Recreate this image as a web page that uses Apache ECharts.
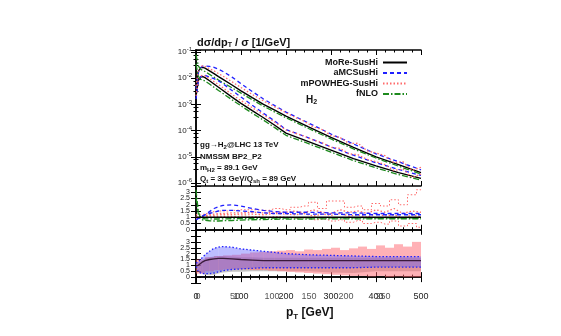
<!DOCTYPE html>
<html>
<head>
<meta charset="utf-8">
<script src="https://cdn.jsdelivr.net/npm/echarts@6/dist/echarts.min.js"></script>
<style>
  html, body { margin: 0; padding: 0; background: #fff; }
  #chart { width: 561px; height: 336px; }
</style>
</head>
<body>
<div id="chart"></div>
<script>
// =====================
// data
// =====================

const pT = [0, 5, 10, 15, 20, 30, 40, 50, 60, 80, 100, 125, 150, 175, 200, 250, 300, 350, 400, 450, 500];
const pTRed = [0, 5, 10, 15, 20, 30, 40, 50, 60, 80, 100, 125, 150, 175, 200, 220, 240, 260, 280, 300, 320, 340, 360, 380, 400, 420, 440, 460, 480, 500];

// main panel, two curves per generator
const moreHi = [5e-3, 1.8e-2, 2.5e-2, 2.6e-2, 2.4e-2, 1.9e-2, 1.5e-2, 1.15e-2, 9e-3, 5.5e-3, 3.3e-3, 1.8e-3, 1e-3, 6e-4, 3.6e-4, 1.4e-4, 5.5e-5, 2.3e-5, 1e-5, 5e-6, 2.5e-6];
const moreLo = [2e-3, 8e-3, 1.1e-2, 1.15e-2, 1.05e-2, 8e-3, 6e-3, 4.5e-3, 3.4e-3, 1.9e-3, 1.1e-3, 5.8e-4, 3.1e-4, 1.6e-4, 8e-5, 3.8e-5, 1.8e-5, 8.5e-6, 4.5e-6, 2.5e-6, 1.5e-6];
const amcHi = [4e-3, 1.6e-2, 2.5e-2, 2.9e-2, 2.9e-2, 2.8e-2, 2.6e-2, 2.2e-2, 1.8e-2, 1.1e-2, 6.2e-3, 3.1e-3, 1.6e-3, 9e-4, 5.1e-4, 1.96e-4, 7.4e-5, 3.1e-5, 1.3e-5, 6.5e-6, 3.2e-6];
const amcLo = [1.6e-3, 7.2e-3, 1.1e-2, 1.3e-2, 1.3e-2, 1.1e-2, 9.6e-3, 7.9e-3, 6.1e-3, 3.4e-3, 1.9e-3, 9.3e-4, 4.6e-4, 2.3e-4, 1.1e-4, 5.3e-5, 2.4e-5, 1.15e-5, 5.9e-6, 3.3e-6, 1.95e-6];
const powhegHi = [5e-3, 1.9e-2, 2.7e-2, 3e-2, 2.8e-2, 2.3e-2, 1.9e-2, 1.5e-2, 1.2e-2, 7.3e-3, 4.4e-3, 2.4e-3, 1.35e-3, 8e-4, 4.8e-4, 3.2e-4, 2.3e-4, 1.4e-4, 1.1e-4, 6.5e-5, 5.5e-5, 3.2e-5, 3.3e-5, 1.7e-5, 1.4e-5, 1.1e-5, 6e-6, 6.5e-6, 3e-6, 4e-6];
const powhegLo = [2.1e-3, 8.5e-3, 1.2e-2, 1.3e-2, 1.2e-2, 9.5e-3, 7.4e-3, 5.7e-3, 4.3e-3, 2.4e-3, 1.4e-3, 7.5e-4, 4e-4, 2.1e-4, 1.05e-4, 8e-5, 6.2e-5, 4.4e-5, 3.5e-5, 2.3e-5, 2.1e-5, 1.3e-5, 1.2e-5, 8e-6, 6.5e-6, 5e-6, 3e-6, 3.4e-6, 1.6e-6, 2.2e-6];
const fnloHi = [8e-2, 3e-2, 2.2e-2, 2e-2, 1.8e-2, 1.4e-2, 1.1e-2, 8.5e-3, 6.8e-3, 4.3e-3, 2.7e-3, 1.5e-3, 8.5e-4, 5.1e-4, 3.1e-4, 1.2e-4, 4.8e-5, 2e-5, 9e-6, 4.4e-6, 2.2e-6];
const fnloLo = [3.5e-2, 1.2e-2, 9e-3, 8.5e-3, 7.8e-3, 6e-3, 4.5e-3, 3.4e-3, 2.6e-3, 1.5e-3, 8.8e-4, 4.6e-4, 2.5e-4, 1.3e-4, 6.6e-5, 3.2e-5, 1.5e-5, 7.2e-6, 3.8e-6, 2.1e-6, 1.3e-6];

// first ratio panel
const amcRatioHi = [0.8, 0.9, 1.0, 1.1, 1.2, 1.45, 1.7, 1.85, 1.95, 2.0, 1.9, 1.7, 1.55, 1.45, 1.4, 1.4, 1.35, 1.35, 1.3, 1.3, 1.3];
const amcRatioLo = [0.8, 0.9, 1.0, 1.1, 1.2, 1.3, 1.4, 1.5, 1.55, 1.55, 1.5, 1.45, 1.35, 1.3, 1.3, 1.25, 1.25, 1.2, 1.2, 1.2, 1.2];
const fnloRatioHi = [3.2, 1.5, 0.9, 0.78, 0.75, 0.72, 0.7, 0.7, 0.72, 0.74, 0.77, 0.8, 0.82, 0.84, 0.85, 0.86, 0.87, 0.87, 0.88, 0.88, 0.88];
const fnloRatioLo = [2.6, 1.3, 1.0, 0.9, 0.88, 0.87, 0.86, 0.86, 0.87, 0.88, 0.9, 0.9, 0.92, 0.93, 0.94, 0.95, 0.95, 0.95, 0.96, 0.96, 0.96];
const powhegRatioHi = [1.1, 1.0, 1.05, 1.1, 1.15, 1.2, 1.25, 1.3, 1.3, 1.35, 1.35, 1.4, 1.35, 1.4, 1.4, 1.5, 1.35, 1.6, 1.4, 1.3, 1.6, 1.4, 1.5, 1.3, 1.6, 1.4, 1.7, 1.3, 1.5, 1.4];
const powhegRatioLo = [1.0, 0.95, 1.0, 1.05, 1.1, 1.1, 1.15, 1.2, 1.2, 1.2, 1.25, 1.25, 1.2, 1.3, 1.25, 1.2, 1.3, 1.1, 1.25, 1.15, 1.3, 1.1, 1.2, 1.0, 1.3, 1.1, 1.2, 0.9, 1.2, 1.0];
const powhegRatioUp = [1.2, 1.2, 1.2, 1.2, 1.3, 1.4, 1.45, 1.5, 1.5, 1.55, 1.6, 1.6, 1.55, 1.7, 1.6, 1.8, 1.9, 2.2, 1.7, 2.3, 2.3, 1.8, 1.9, 1.6, 2.1, 1.9, 2.4, 2.0, 2.8, 3.2];
const powhegRatioDown = [0.9, 0.9, 0.95, 1.0, 1.0, 1.0, 1.05, 1.05, 1.05, 1.05, 1.1, 1.05, 1.0, 1.05, 1.0, 0.9, 0.95, 0.8, 0.85, 0.7, 0.8, 0.6, 0.75, 0.5, 0.6, 0.45, 0.7, 0.3, 0.5, 0.2];

// second ratio panel: scale bands
const moreCentral = [0.95, 1.0, 1.15, 1.3, 1.4, 1.5, 1.55, 1.6, 1.6, 1.55, 1.5, 1.45, 1.4, 1.4, 1.4, 1.4, 1.4, 1.4, 1.4, 1.4, 1.4];
const moreBandLo = [0.9, 0.6, 0.4, 0.3, 0.2, 0.15, 0.2, 0.3, 0.4, 0.45, 0.45, 0.5, 0.5, 0.5, 0.5, 0.5, 0.4, 0.35, 0.5, 0.5, 0.5];
const moreBandHi = [1.1, 1.2, 1.35, 1.5, 1.6, 1.7, 1.75, 1.8, 1.8, 1.75, 1.7, 1.7, 1.65, 1.65, 1.65, 1.65, 1.65, 1.65, 1.65, 1.65, 1.65];
const amcBandLo = [0.9, 0.5, 0.35, 0.3, 0.3, 0.3, 0.35, 0.45, 0.55, 0.65, 0.7, 0.75, 0.8, 0.8, 0.8, 0.8, 0.8, 0.8, 0.85, 0.85, 0.85];
const amcBandHi = [1.2, 1.3, 1.5, 1.7, 1.9, 2.2, 2.45, 2.55, 2.6, 2.55, 2.4, 2.3, 2.2, 2.1, 2.0, 1.9, 1.85, 1.8, 1.75, 1.75, 1.75];
const binEdges = [0, 20, 40, 60, 80, 100, 120, 140, 160, 180, 200, 220, 240, 260, 280, 300, 320, 340, 360, 380, 400, 420, 440, 460, 480, 500];
const powhegBandLo = [0.3, 0.5, 0.6, 0.65, 0.65, 0.65, 0.6, 0.6, 0.55, 0.5, 0.45, 0.4, 0.35, 0.3, 0.25, 0.2, 0.15, 0.1, 0.1, 0.05, 0.1, 0.0, 0.05, 0.0, 0.0];
const powhegBandHi = [1.5, 1.7, 1.8, 1.85, 1.9, 2.0, 2.1, 2.15, 2.2, 2.25, 2.3, 2.2, 2.35, 2.3, 2.4, 2.5, 2.3, 2.45, 2.6, 2.4, 2.7, 2.5, 2.8, 2.6, 3.0];

const ratioTicks = [0, 0.5, 1, 1.5, 2, 2.5, 3];

// =====================
// helpers
// =====================

const FONT = "Liberation Sans";

function pairs(xs, ys) {
  return xs.map((x, i) => [x, ys[i]]);
}

function logLabel(v) {
  const e = Math.log10(v);
  if (Math.abs(e - Math.round(e)) > 1e-6) return "";
  return "10{sup|" + Math.round(e) + "}";
}

function ratioLabel(v) {
  return ratioTicks.indexOf(v) >= 0 ? String(v) : "";
}

const frameLine = { show: true, lineStyle: { color: "#000", width: 1.5 } };
const inTick = { show: true, inside: true, length: 5, lineStyle: { color: "#000" } };
const inMinor = { show: true, splitNumber: 5, length: 2.5, lineStyle: { color: "#000" } };

function xAxisFor(grid, pos, labels) {
  return {
    type: "value", gridIndex: grid, position: pos, min: 0, max: 500, interval: 100,
    axisLine: frameLine, axisTick: inTick, minorTick: inMinor, splitLine: { show: false },
    axisLabel: labels
      ? { show: true, color: "#222", fontFamily: FONT, fontSize: 9, margin: 9 }
      : { show: false },
  };
}

function ratioYAxis(grid, pos, labels) {
  return {
    type: "value", gridIndex: grid, position: pos, min: -0.5, max: 3.5, interval: 0.5,
    axisLine: frameLine, axisTick: inTick, splitLine: { show: false },
    axisLabel: labels
      ? { show: true, color: "#222", fontFamily: FONT, fontSize: 7, margin: 6, formatter: ratioLabel }
      : { show: false },
  };
}

function line(name, xi, yi, data, color, type, width) {
  return {
    name: name, type: "line", xAxisIndex: xi, yAxisIndex: yi, data: data,
    showSymbol: false, symbol: "none", silent: true,
    lineStyle: { color: color, type: type, width: width || 1.3 },
    itemStyle: { color: color },
  };
}

// band between two curves, drawn segment by segment through the axes
function band(xi, yi, xs, lo, hi, fill) {
  const data = [];
  for (let i = 0; i < xs.length - 1; i++) {
    data.push([xs[i], lo[i], hi[i], xs[i + 1], lo[i + 1], hi[i + 1]]);
  }
  return {
    type: "custom", xAxisIndex: xi, yAxisIndex: yi, data: data, silent: true,
    renderItem: function (params, api) {
      const a = api.coord([api.value(0), api.value(1)]);
      const b = api.coord([api.value(3), api.value(4)]);
      const c = api.coord([api.value(3), api.value(5)]);
      const d = api.coord([api.value(0), api.value(2)]);
      return { type: "polygon", shape: { points: [a, b, c, d] }, style: { fill: fill } };
    },
  };
}

// histogram band, one rectangle per bin
function binBand(xi, yi, edges, lo, hi, fill) {
  const data = lo.map((v, i) => [edges[i], edges[i + 1], v, hi[i]]);
  return {
    type: "custom", xAxisIndex: xi, yAxisIndex: yi, data: data, silent: true,
    renderItem: function (params, api) {
      const a = api.coord([api.value(0), api.value(3)]);
      const b = api.coord([api.value(1), api.value(2)]);
      return {
        type: "rect",
        shape: { x: a[0], y: a[1], width: b[0] - a[0], height: b[1] - a[1] },
        style: { fill: fill },
      };
    },
  };
}

// =====================
// chart
// =====================

const BLACK = "#000000";
const BLUE = "#2020ff";
const RED = "#ff6a6a";
const GREEN = "#1d8a1d";
const DASH = [4, 3];
const DOT = [1.5, 2];
const DASHDOT = [6, 2, 1.5, 2];

const chart = echarts.init(document.getElementById("chart"));

chart.setOption({
  animation: false,
  backgroundColor: "#fff",
  grid: [
    { left: 196, width: 225, top: 50, height: 136 },
    { left: 196, width: 225, top: 186, height: 50 },
    { left: 196, width: 225, top: 236, height: 47 },
    { left: 198, width: 185, top: 236, height: 47 },
  ],
  xAxis: [
    xAxisFor(0, "bottom", false),
    xAxisFor(0, "top", false),
    xAxisFor(1, "bottom", false),
    xAxisFor(1, "top", false),
    xAxisFor(2, "bottom", true),
    xAxisFor(2, "top", false),
    {
      type: "value", gridIndex: 3, position: "bottom", min: 0, max: 250, interval: 50,
      axisLine: { show: false }, axisTick: { show: false }, splitLine: { show: false },
      axisLabel: { show: true, color: "#555", fontFamily: FONT, fontSize: 9, margin: 9 },
    },
  ],
  yAxis: [
    {
      type: "log", gridIndex: 0, position: "left", min: 7.7e-7, max: 0.119,
      axisLine: frameLine, axisTick: inTick, minorTick: { show: true, splitNumber: 4, length: 2.5 },
      splitLine: { show: false },
      axisLabel: {
        color: "#222", fontFamily: FONT, fontSize: 8, margin: 4, formatter: logLabel,
        rich: { sup: { fontSize: 6, verticalAlign: "top", padding: [0, 0, 5, 0], fontFamily: FONT, color: "#222" } },
      },
    },
    {
      type: "log", gridIndex: 0, position: "right", min: 7.7e-7, max: 0.119,
      axisLine: frameLine, axisTick: inTick, minorTick: { show: true, splitNumber: 4, length: 2.5 },
      splitLine: { show: false }, axisLabel: { show: false },
    },
    ratioYAxis(1, "left", true),
    ratioYAxis(1, "right", false),
    ratioYAxis(2, "left", true),
    ratioYAxis(2, "right", false),
    { type: "value", gridIndex: 3, show: false, min: 0, max: 1 },
  ],
  legend: {
    data: ["MoRe-SusHi", "aMCSusHi", "mPOWHEG-SusHi", "fNLO"],
    orient: "vertical", right: 148, top: 53, align: "right",
    itemWidth: 24, itemHeight: 7, itemGap: 1.5,
    itemStyle: { opacity: 0 },
    textStyle: { fontFamily: FONT, fontSize: 9, lineHeight: 8, fontWeight: "bold", color: "#111" },
  },
  series: [
    // main panel
    line("MoRe-SusHi", 0, 0, pairs(pT, moreHi), BLACK, "solid", 1.4),
    line("aMCSusHi", 0, 0, pairs(pT, amcHi), BLUE, DASH),
    line("mPOWHEG-SusHi", 0, 0, pairs(pTRed, powhegHi), RED, DOT),
    line("fNLO", 0, 0, pairs(pT, fnloHi), GREEN, DASHDOT),
    line("MoRe-SusHi", 0, 0, pairs(pT, moreLo), BLACK, "solid", 1.4),
    line("aMCSusHi", 0, 0, pairs(pT, amcLo), BLUE, DASH),
    line("mPOWHEG-SusHi", 0, 0, pairs(pTRed, powhegLo), RED, DOT),
    line("fNLO", 0, 0, pairs(pT, fnloLo), GREEN, DASHDOT),

    // ratio panel 1
    Object.assign(line("mPOWHEG-SusHi", 2, 2, pairs(pTRed, powhegRatioUp), RED, DOT, 1), { step: "middle" }),
    Object.assign(line("mPOWHEG-SusHi", 2, 2, pairs(pTRed, powhegRatioDown), RED, DOT, 1), { step: "middle" }),
    line("mPOWHEG-SusHi", 2, 2, pairs(pTRed, powhegRatioHi), RED, DOT),
    line("mPOWHEG-SusHi", 2, 2, pairs(pTRed, powhegRatioLo), RED, DOT),
    line("aMCSusHi", 2, 2, pairs(pT, amcRatioHi), BLUE, DASH),
    line("aMCSusHi", 2, 2, pairs(pT, amcRatioLo), BLUE, DASH),
    line("fNLO", 2, 2, pairs(pT, fnloRatioHi), GREEN, DASHDOT),
    line("fNLO", 2, 2, pairs(pT, fnloRatioLo), GREEN, DASHDOT),
    line("MoRe-SusHi", 2, 2, [[0, 1], [500, 1]], BLACK, "solid", 1.6),

    // ratio panel 2
    band(4, 4, pT, moreBandLo, moreBandHi, "rgba(150,150,150,0.55)"),
    binBand(4, 4, binEdges, powhegBandLo, powhegBandHi, "rgba(255,100,110,0.5)"),
    band(4, 4, pT, amcBandLo, amcBandHi, "rgba(90,90,255,0.4)"),
    line("aMCSusHi", 4, 4, pairs(pT, amcBandLo), BLUE, DOT),
    line("aMCSusHi", 4, 4, pairs(pT, amcBandHi), BLUE, DOT),
    line("MoRe-SusHi", 4, 4, pairs(pT, moreCentral), "#3a1a3a", "solid", 1.3),
  ],
  graphic: [
    {
      type: "text", left: 197, top: 37,
      style: {
        text: "dσ/dp{sub|T} / σ [1/GeV]", fontFamily: FONT, fontSize: 11, fontWeight: "bold", fill: "#111",
        rich: { sub: { fontSize: 7, verticalAlign: "bottom", fontFamily: FONT, fontWeight: "bold", padding: [6, 0, 0, 0] } },
      },
    },
    {
      type: "text", left: 286, top: 307,
      style: {
        text: "p{sub|T} [GeV]", fontFamily: FONT, fontSize: 12, fontWeight: "bold", fill: "#111",
        rich: { sub: { fontSize: 8, fontFamily: FONT, fontWeight: "bold", padding: [7, 0, 0, 0] } },
      },
    },
    {
      type: "text", left: 306, top: 95,
      style: {
        text: "H{sub|2}", fontFamily: FONT, fontSize: 10, fontWeight: "bold", fill: "#111",
        rich: { sub: { fontSize: 7, fontFamily: FONT, fontWeight: "bold", padding: [5, 0, 0, 0] } },
      },
    },
    {
      type: "text", left: 200, top: 141,
      style: {
        text: "gg→H{sub|2}@LHC 13 TeV", fontFamily: FONT, fontSize: 8, fontWeight: "bold", fill: "#111",
        rich: { sub: { fontSize: 6, fontFamily: FONT, fontWeight: "bold", padding: [4, 0, 0, 0] } },
      },
    },
    {
      type: "text", left: 200, top: 153,
      style: { text: "NMSSM BP2_P2", fontFamily: FONT, fontSize: 8, fontWeight: "bold", fill: "#111" },
    },
    {
      type: "text", left: 200, top: 164,
      style: {
        text: "m{sub|H2} = 89.1 GeV", fontFamily: FONT, fontSize: 8, fontWeight: "bold", fill: "#111",
        rich: { sub: { fontSize: 6, fontFamily: FONT, fontWeight: "bold", padding: [4, 0, 0, 0] } },
      },
    },
    {
      type: "text", left: 200, top: 175,
      style: {
        text: "Q{sub|t} = 33 GeV/Q{sub|sh} = 89 GeV", fontFamily: FONT, fontSize: 8, fontWeight: "bold", fill: "#111",
        rich: { sub: { fontSize: 6, fontFamily: FONT, fontWeight: "bold", padding: [4, 0, 0, 0] } },
      },
    },
  ],
});
</script>
</body>
</html>
